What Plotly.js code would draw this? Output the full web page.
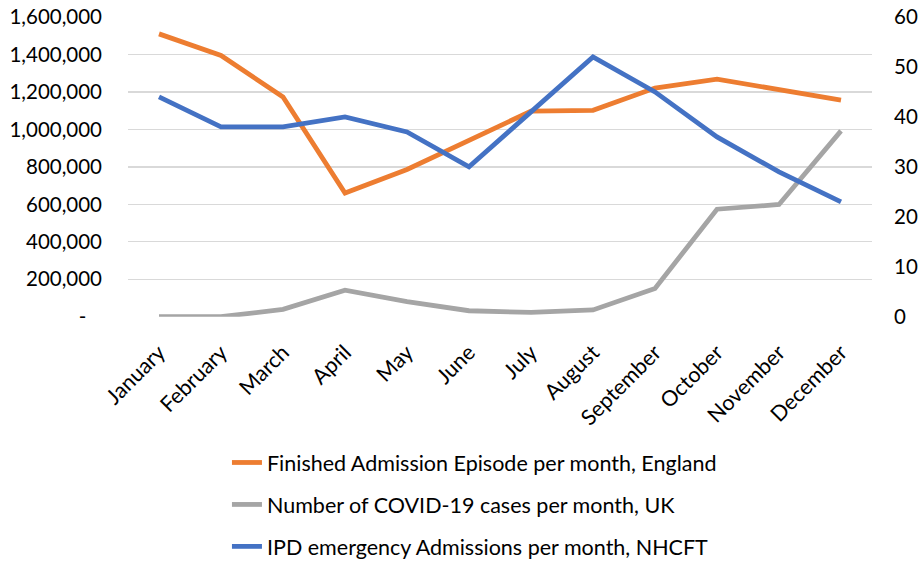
<!DOCTYPE html>
<html>
<head>
<meta charset="utf-8">
<script src="https://cdn.plot.ly/plotly-3.0.1.min.js"></script>
<style>html,body{margin:0;padding:0;background:#fff;overflow:hidden;}#chart{width:919px;height:600px;}</style>
</head>
<body>
<div id="chart"></div>
<script>
const months = ["January","February","March","April","May","June","July","August","September","October","November","December"];
const finishedAdmissions = [1510000,1395000,1173000,660000,786000,940000,1097000,1102000,1221000,1268000,1213000,1156000];
const covidCases = [0,0,39000,142000,80000,32000,23000,36000,151000,574000,599000,992000];
const ipdAdmissions = [44,38,38,40,37,30,41,52,45,36,29,23];
const leftTickVals = [0,200000,400000,600000,800000,1000000,1200000,1400000,1600000];
const leftTickText = ["-\u00a0\u00a0\u00a0","200,000","400,000","600,000","800,000","1,000,000","1,200,000","1,400,000","1,600,000"];
const rightTickVals = [0,10,20,30,40,50,60];

const font = {family: "Lato, 'Open Sans', sans-serif", size: 21.5, color: "#000"};
const tickFont = {family: "Lato, 'Open Sans', sans-serif", size: 20.5, color: "#000"};

const traces = [
  {x: months, y: finishedAdmissions, type: "scatter", mode: "lines", name: "Finished Admission Episode per month, England",
   line: {color: "#ED7D31", width: 4.8}, yaxis: "y", legendgroup: "a"},
  {x: months, y: covidCases, type: "scatter", mode: "lines", name: "Number of COVID-19 cases per month, UK",
   line: {color: "#A5A5A5", width: 4.8}, yaxis: "y", legendgroup: "b"},
  {x: months, y: ipdAdmissions, type: "scatter", mode: "lines", name: "IPD emergency Admissions per month, NHCFT",
   line: {color: "#4472C4", width: 4.8}, yaxis: "y2", legendgroup: "c"}
];

const layout = {
  width: 919, height: 600,
  margin: {l: 128, r: 47, t: 17, b: 0},
  paper_bgcolor: "#fff", plot_bgcolor: "#fff",
  font: font,
  showlegend: true,
  legend: {orientation: "v", x: 0.133, xanchor: "left", y: 0.271, yanchor: "top",
           font: font, tracegroupgap: 11, bgcolor: "rgba(0,0,0,0)"},
  xaxis: {type: "category", range: [-0.5, 11.5], tickangle: -45, showgrid: false, zeroline: false,
          showline: false, ticks: "", tickfont: font, fixedrange: true, automargin: false, ticklabelstandoff: 18},
  yaxis: {domain: [0.4859, 1], range: [0, 1600000], tickvals: leftTickVals, ticktext: leftTickText, showgrid: true,
          gridcolor: "#D9D9D9", gridwidth: 1.3, zeroline: false, showline: false, ticks: "",
          tickfont: tickFont, ticklabelstandoff: 25, automargin: false},
  yaxis2: {domain: [0.4859, 1], range: [0, 60], tickvals: rightTickVals, overlaying: "y", side: "right", showgrid: false,
           zeroline: false, showline: false, ticks: "", tickfont: tickFont, ticklabelstandoff: 21, automargin: false}
};

Plotly.newPlot("chart", traces, layout, {displayModeBar: false, staticPlot: true});
</script>
</body>
</html>
